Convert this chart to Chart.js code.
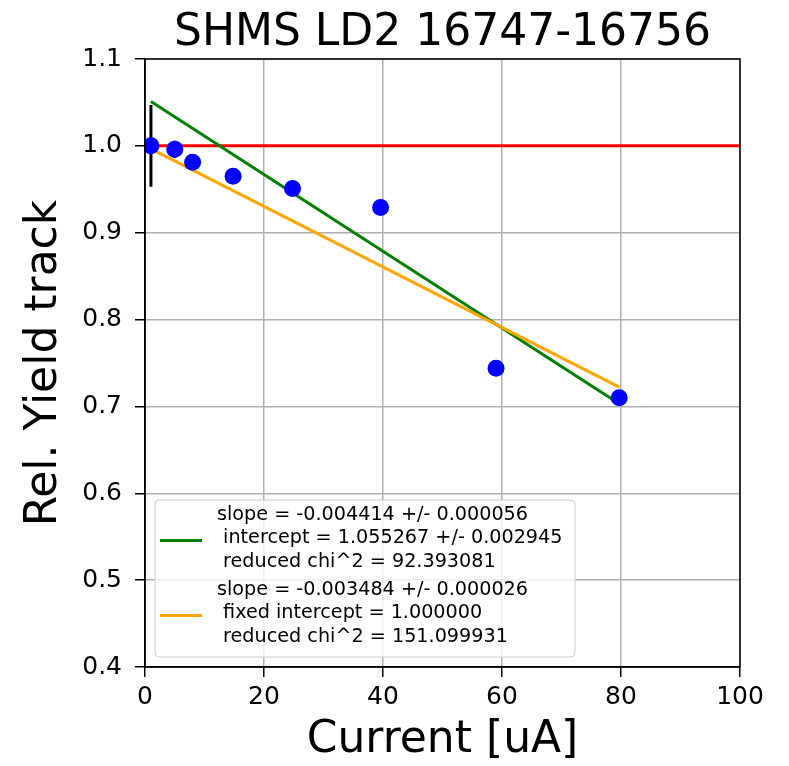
<!DOCTYPE html>
<html><head><meta charset="utf-8">
<script src="https://cdn.jsdelivr.net/npm/chart.js@4/dist/chart.umd.min.js"></script>
<style>html,body{margin:0;padding:0;background:#fff}canvas{display:block}</style>
</head><body>
<canvas id="c" width="789" height="766"></canvas>
<script>
// ---- data ----
const currents = [1.0, 5.0, 8.0, 14.8, 24.8, 39.6, 59.0, 79.7];
const relYield = [1.000, 0.996, 0.981, 0.965, 0.951, 0.929, 0.744, 0.710];
const yieldErr = [0.047, 0.010, 0.005, 0.004, 0.004, 0.003, 0.003, 0.003];
const fitX = [1.0, 79.7];
const fitY = [1.051, 0.703];        // free fit (green)
const fixedFitY = [0.9965, 0.7223]; // fixed-intercept fit (orange)
const refX = [0, 100];
const refY = [1.0, 1.0];
const xTicks = [0, 20, 40, 60, 80, 100];
const yTicks = [0.4, 0.5, 0.6, 0.7, 0.8, 0.9, 1.0, 1.1];
const fitLabel = ["slope = -0.004414 +/- 0.000056", " intercept = 1.055267 +/- 0.002945", " reduced chi^2 = 92.393081"];
const fixedLabel = ["slope = -0.003484 +/- 0.000026", " fixed intercept = 1.000000", " reduced chi^2 = 151.099931"];
const titleText = "SHMS LD2 16747-16756";
const xTitle = "Current [uA]";
const yTitle = "Rel. Yield track";

const FONT = "'DejaVu Sans', 'Liberation Sans', sans-serif";
Chart.defaults.font.family = FONT;
Chart.defaults.color = '#000';

const pts = currents.map((x, i) => ({x, y: relYield[i]}));
const errPts = currents.flatMap((x, i) => [
  {x, y: relYield[i] - yieldErr[i]}, {x, y: relYield[i] + yieldErr[i]}, {x, y: null}
]);
const line = (xs, ys) => xs.map((x, i) => ({x, y: ys[i]}));

const framePlugin = {
  id: 'frame',
  afterDatasetsDraw(chart) {
    const {ctx, chartArea: a} = chart;
    ctx.save();
    // title centred over the plot area
    ctx.font = "44px " + FONT;
    ctx.textAlign = 'center';
    ctx.textBaseline = 'alphabetic';
    ctx.fillStyle = '#000';
    ctx.fillText(titleText, (a.left + a.right) / 2, 45);
    // legend box
    ctx.textAlign = 'left';
    const bx = a.left + 10, by = 500, bw = 420, bh = 157;
    ctx.beginPath();
    ctx.roundRect(bx, by, bw, bh, 4);
    ctx.fillStyle = 'rgba(255,255,255,0.8)';
    ctx.fill();
    ctx.strokeStyle = '#cccccc';
    ctx.lineWidth = 1;
    ctx.stroke();
    const groups = [[fitLabel, '#008000', 515], [fixedLabel, '#ffa500', 590]];
    ctx.font = "19.2px " + FONT;
    ctx.textBaseline = 'middle';
    ctx.fillStyle = '#000';
    groups.forEach(([lines, col, y0]) => {
      lines.forEach((t, i) => {
        ctx.fillText(t, 217, y0 + i * 23.5);
      });
      ctx.beginPath();
      ctx.moveTo(160, y0 + 25.5);
      ctx.lineTo(202, y0 + 25.5);
      ctx.strokeStyle = col;
      ctx.lineWidth = 3;
      ctx.stroke();
    });
    // frame
    ctx.strokeStyle = '#000';
    ctx.lineWidth = 1.5;
    ctx.strokeRect(a.left, a.top, a.right - a.left, a.bottom - a.top);
    ctx.restore();
  }
};

new Chart(document.getElementById('c'), {
  type: 'scatter',
  data: {
    datasets: [
      {data: pts, backgroundColor: '#0000ff', borderWidth: 0, pointRadius: 8.5, order: 0},
      {type: 'line', data: errPts, borderColor: '#000', borderWidth: 3, pointRadius: 0, spanGaps: false, order: 1},
      {type: 'line', data: line(refX, refY), borderColor: '#ff0000', borderWidth: 3, pointRadius: 0, order: 4},
      {type: 'line', data: line(fitX, fitY), borderColor: '#008000', borderWidth: 3, pointRadius: 0, order: 3},
      {type: 'line', data: line(fitX, fixedFitY), borderColor: '#ffa500', borderWidth: 3, pointRadius: 0, order: 2}
    ]
  },
  options: {
    responsive: false,
    animation: false,
    devicePixelRatio: 1,
    layout: {padding: {left: 0, right: 49, top: 59, bottom: 0}},
    plugins: {
      legend: {display: false},
      tooltip: {enabled: false},
      title: {display: false}
    },
    scales: {
      x: {
        type: 'linear', min: 0, max: 100,
        afterBuildTicks: s => { s.ticks = xTicks.map(v => ({value: v})); },
        afterFit: s => { s.height = 99; },
        ticks: {font: {size: 25}, color: '#000', padding: 5, maxRotation: 0, callback: v => String(v)},
        grid: {color: '#b0b0b0', lineWidth: 1.5, tickColor: '#000', tickLength: 10},
        border: {color: '#000', width: 1.5},
        title: {display: true, text: xTitle, color: '#000', font: {size: 44, lineHeight: 1}, padding: {top: 0, bottom: 3}}
      },
      y: {
        type: 'linear', min: 0.4, max: 1.1,
        afterBuildTicks: s => { s.ticks = yTicks.map(v => ({value: v})); },
        afterFit: s => { s.width = 145; },
        ticks: {font: {size: 25}, color: '#000', padding: 13, callback: v => Number(v).toFixed(1)},
        grid: {color: '#b0b0b0', lineWidth: 1.5, tickColor: '#000', tickLength: 10},
        border: {color: '#000', width: 1.5},
        title: {display: true, text: yTitle, color: '#000', font: {size: 44, lineHeight: 1}, padding: {top: 23, bottom: 0}}
      }
    }
  },
  plugins: [framePlugin]
});
</script>
</body></html>
